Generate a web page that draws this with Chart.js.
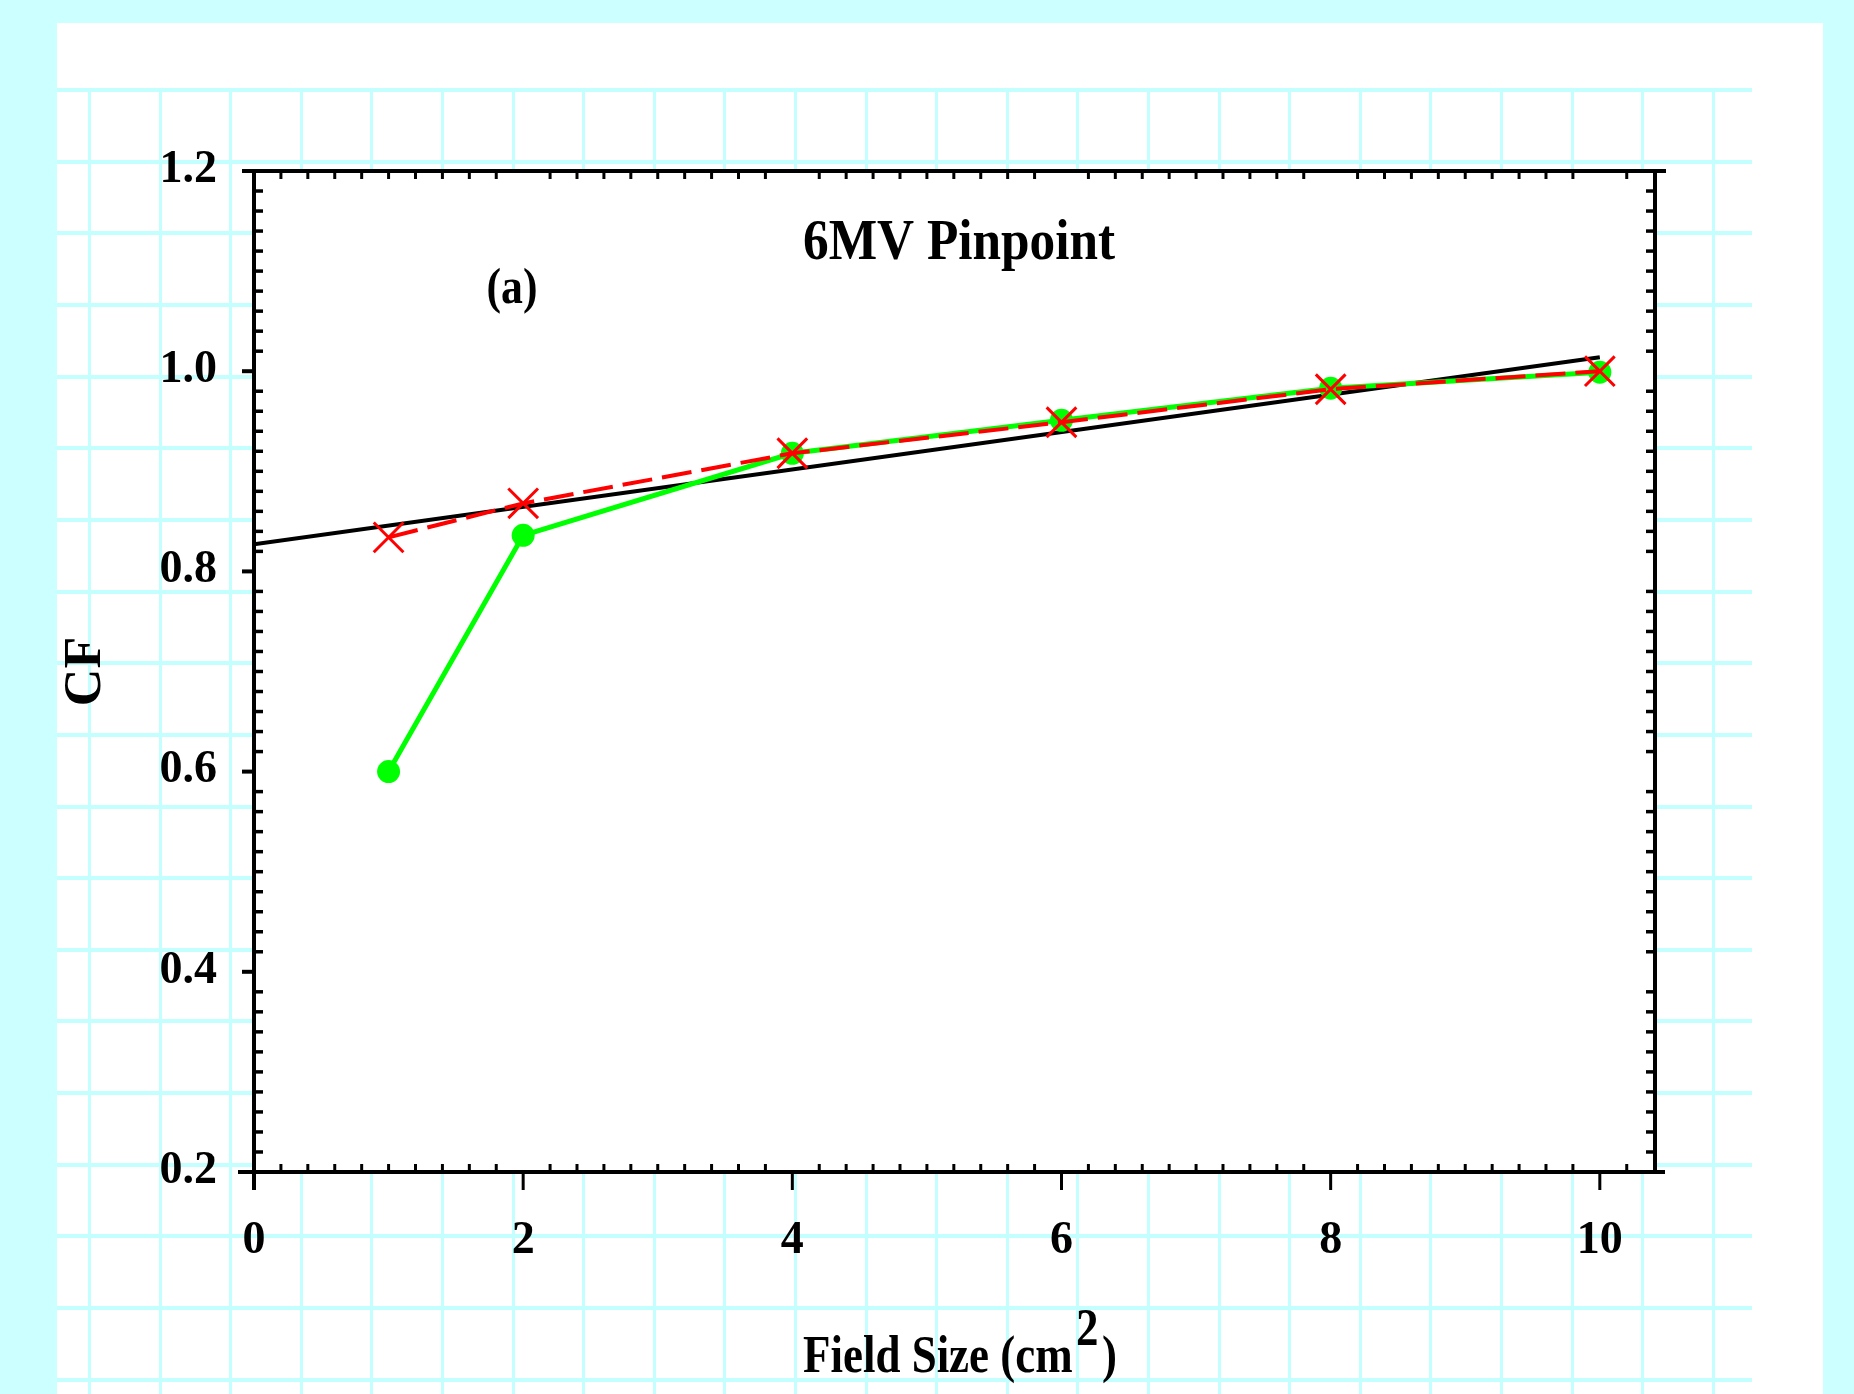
<!DOCTYPE html>
<html>
<head>
<meta charset="utf-8">
<script src="https://cdn.jsdelivr.net/npm/chart.js@4.4.1/dist/chart.umd.min.js"></script>
<style>
html,body{margin:0;padding:0;background:#CCFFFF;overflow:hidden}
canvas{display:block}
</style>
</head>
<body>
<canvas id="c" width="1854" height="1394"></canvas>
<script>
// ---- data ----
const fieldSizes = [1, 2, 4, 6, 8, 10];
const cfRed = [0.834, 0.868, 0.918, 0.949, 0.982, 1.000];     // red dashed, x markers
const cfGreen = [0.600, 0.836, 0.918, 0.951, 0.983, 0.999];   // green solid, filled markers
const fitX = [0, 10];                                          // black straight line
const fitY = [0.827, 1.014];
const xTickValues = [0, 2, 4, 6, 8, 10];
const xTickLabels = ['0', '2', '4', '6', '8', '10'];
const yTickValues = [0.2, 0.4, 0.6, 0.8, 1.0, 1.2];
const yTickLabels = ['0.2', '0.4', '0.6', '0.8', '1.0', '1.2'];
const chartTitle = '6MV Pinpoint';
const panelLabel = '(a)';
const xTitleParts = ['Field Size (cm', '2', ')'];
const yTitle = 'CF';

const FAMILY = '"Liberation Serif", "Times New Roman", serif';
const W = 1854, H = 1394;

function pts(xs, ys) { return xs.map((x, i) => ({ x: x, y: ys[i] })); }

const paperPlugin = {
  id: 'paper',
  beforeDraw(chart) {
    const ctx = chart.ctx, ca = chart.chartArea;
    ctx.save();
    ctx.fillStyle = '#CCFFFF';
    ctx.fillRect(0, 0, W, H);
    ctx.fillStyle = '#FFFFFF';
    ctx.fillRect(57, 23, 1823 - 57, H - 23);
    ctx.fillStyle = '#C4FFFF';
    for (let k = 0; k <= 18; k++) {
      const y = Math.round(90 + 71.65 * k);
      ctx.fillRect(57, y - 2, 1752 - 57, 4);
    }
    for (let k = 0; k <= 23; k++) {
      const x = Math.round(89 + 70.6 * k);
      ctx.fillRect(x - 1, 92, 3, H - 92);
    }
    ctx.fillStyle = '#FFFFFF';
    ctx.fillRect(ca.left, ca.top, ca.right - ca.left, ca.bottom - ca.top);
    ctx.restore();
  }
};

function drawFit(ctx, text, cx, baseline, size, targetW) {
  ctx.save();
  ctx.font = 'bold ' + size + 'px ' + FAMILY;
  const w = ctx.measureText(text).width;
  ctx.translate(cx, baseline);
  ctx.scale(targetW / w, 1);
  ctx.textAlign = 'center';
  ctx.textBaseline = 'alphabetic';
  ctx.fillStyle = '#000';
  ctx.fillText(text, 0, 0);
  ctx.restore();
}

const framePlugin = {
  id: 'frame',
  afterDraw(chart) {
    const ctx = chart.ctx, ca = chart.chartArea;
    const xs = chart.scales.x, ys = chart.scales.y;
    const L = ca.left, R = ca.right, T = ca.top, B = ca.bottom;
    ctx.save();
    ctx.strokeStyle = '#000';
    ctx.lineCap = 'butt';
    function seg(x1, y1, x2, y2, w) {
      ctx.lineWidth = w;
      ctx.beginPath(); ctx.moveTo(x1, y1); ctx.lineTo(x2, y2); ctx.stroke();
    }
    // frame
    seg(L - 12, T, R + 11, T, 4);
    seg(L - 16, B, R + 10, B, 4);
    seg(L, T - 2, L, B + 18, 4);
    seg(R, T - 2, R, B + 2, 4);
    // x major ticks (outward)
    xTickValues.forEach(v => { const px = xs.getPixelForValue(v); seg(px, B, px, B + 18, 3); });
    // y major ticks (outward)
    yTickValues.forEach(v => { const py = ys.getPixelForValue(v); seg(L - 12, py, L, py, 4); });
    // x minor ticks (inward) every 0.2
    for (let i = 1; i <= 52; i++) {
      if (i % 10 === 0) continue;
      const px = xs.getPixelForValue(i * 0.2);
      if (px >= R - 2) continue;
      seg(px, B, px, B - 8, 3);
      seg(px, T, px, T + 8, 3);
    }
    // y minor ticks (inward) every 0.02
    for (let i = 11; i < 60; i++) {
      if (i % 10 === 0) continue;
      const py = ys.getPixelForValue(i * 0.02);
      seg(L, py, L + 9, py, 3.5);
      seg(R, py, R - 9, py, 3.5);
    }
    ctx.restore();

    // texts
    drawFit(ctx, chartTitle, 959, 259, 56, 312);
    drawFit(ctx, panelLabel, 512, 303, 50, 51);

    // x axis title with superscript
    ctx.save();
    ctx.font = 'bold 52px ' + FAMILY;
    const w0 = ctx.measureText(xTitleParts[0]).width;
    const w1 = ctx.measureText(xTitleParts[1]).width;
    const w2 = ctx.measureText(xTitleParts[2]).width;
    const gap = 4;
    const total = w0 + w1 + w2 + gap * 2;
    const target = 314;
    const sx = target / total;
    ctx.translate(960 - target / 2, 1372);
    ctx.scale(sx, 1);
    ctx.fillStyle = '#000';
    ctx.textAlign = 'left';
    ctx.textBaseline = 'alphabetic';
    ctx.fillText(xTitleParts[0], 0, 0);
    ctx.fillText(xTitleParts[1], w0 + gap, -27);
    ctx.fillText(xTitleParts[2], w0 + w1 + gap * 2, 0);
    ctx.restore();
  }
};

const tickFont = { family: FAMILY, size: 46, weight: 'bold' };

new Chart(document.getElementById('c'), {
  type: 'line',
  data: {
    datasets: [
      {
        label: 'measured',
        data: pts(fieldSizes, cfRed),
        borderColor: '#FF0000',
        borderWidth: 4,
        borderDash: [30, 10],
        pointStyle: 'crossRot',
        pointRadius: 21,
        pointBorderWidth: 3,
        pointBorderColor: '#FF0000',
        pointBackgroundColor: '#FF0000',
        fill: false,
        tension: 0,
        order: 0
      },
      {
        label: 'corrected',
        data: pts(fieldSizes, cfGreen),
        borderColor: '#00FF00',
        borderWidth: 5,
        pointStyle: 'circle',
        pointRadius: 11.5,
        pointBorderWidth: 0,
        pointBackgroundColor: '#00FF00',
        pointBorderColor: '#00FF00',
        fill: false,
        tension: 0,
        order: 1
      },
      {
        label: 'fit',
        data: pts(fitX, fitY),
        borderColor: '#000000',
        borderWidth: 4,
        pointRadius: 0,
        fill: false,
        tension: 0,
        order: 2
      }
    ]
  },
  options: {
    responsive: false,
    animation: false,
    devicePixelRatio: 1,
    layout: { padding: { left: 54, right: 199, top: 171, bottom: 0 } },
    plugins: {
      legend: { display: false },
      tooltip: { enabled: false },
      title: { display: false }
    },
    scales: {
      x: {
        type: 'linear',
        min: 0,
        max: 10.41,
        grid: { display: false },
        border: { display: false },
        afterBuildTicks: s => { s.ticks = xTickValues.map(v => ({ value: v })); },
        afterFit: s => { s.height = 222; },
        ticks: {
          autoSkip: false,
          maxRotation: 0,
          padding: 34,
          color: '#000',
          font: tickFont,
          callback: v => { const i = xTickValues.indexOf(v); return i >= 0 ? xTickLabels[i] : ''; }
        },
        title: { display: false }
      },
      y: {
        type: 'linear',
        min: 0.2,
        max: 1.2,
        grid: { display: false },
        border: { display: false },
        afterBuildTicks: s => { s.ticks = yTickValues.map(v => ({ value: v })); },
        afterFit: s => { s.width = 200; },
        ticks: {
          autoSkip: false,
          padding: 29,
          labelOffset: -1,
          color: '#000',
          font: tickFont,
          callback: v => { const i = yTickValues.indexOf(v); return i >= 0 ? yTickLabels[i] : ''; }
        },
        title: {
          display: true,
          text: yTitle,
          color: '#000',
          font: { family: FAMILY, size: 52, weight: 'bold' },
          padding: { top: 1, bottom: 0 }
        }
      }
    }
  },
  plugins: [paperPlugin, framePlugin]
});
</script>
</body>
</html>
